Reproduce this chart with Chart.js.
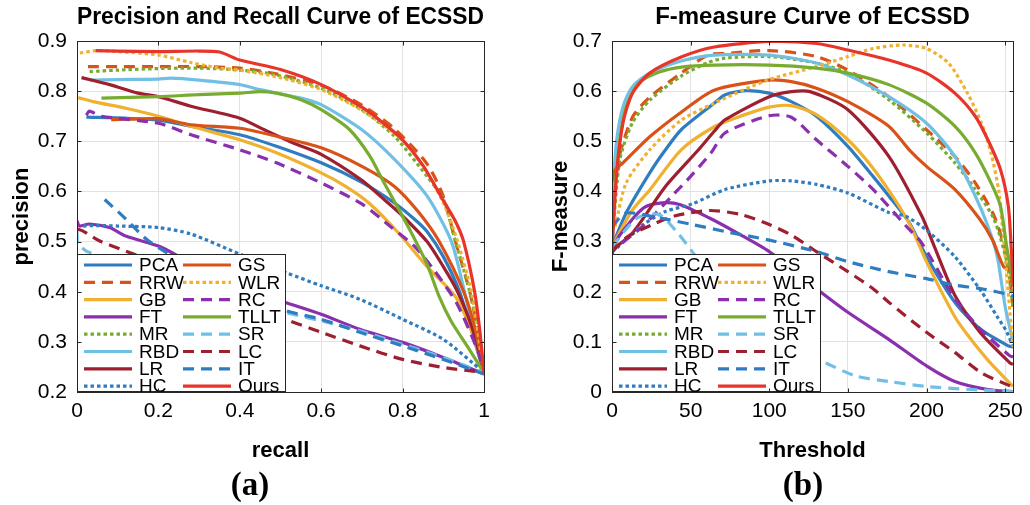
<!DOCTYPE html>
<html lang="en">
<head>
  <meta charset="UTF-8" />
  <title>ECSSD: PR and F-measure</title>
  <script src="https://cdn.jsdelivr.net/npm/chart.js"></script>
  <style>
    body { margin: 0; background: #fff; }
    #wrap { position: relative; width: 1030px; height: 505px; overflow: hidden; }
    canvas { position: absolute; top: 0; }
    .cap { position: absolute; top: 466px; font: bold 33px "Liberation Serif", "Times New Roman", serif; color: #000; transform: translateX(-50%); }
  </style>
</head>
<body>
  <div id="wrap">
    <canvas id="prChart" width="515" height="505" style="left:0"></canvas>
    <canvas id="fmChart" width="515" height="505" style="left:515px"></canvas>
    <div class="cap" style="left:250px">(a)</div>
    <div class="cap" style="left:803px">(b)</div>
  </div>

  <script>
    const methods = ['PCA', 'RRW', 'GB', 'FT', 'MR', 'RBD', 'LR', 'HC', 'GS', 'WLR', 'RC', 'TLLT', 'SR', 'LC', 'IT', 'Ours'];
    const colors = ['#2f7dc0', '#d95319', '#efb12f', '#8a2fad', '#77ac30', '#70c0e6', '#9e1f30', '#2f7dc0',
                    '#d95319', '#efb12f', '#8a2fad', '#77ac30', '#70c0e6', '#9e1f30', '#2f7dc0', '#e8342a'];
    const styles = ['solid', 'dash', 'solid', 'solid', 'dot', 'solid', 'solid', 'dot',
                    'solid', 'dot', 'dash', 'solid', 'dash', 'dash', 'dash', 'solid'];

    const PR_X_TICKS = [0, 0.2, 0.4, 0.6, 0.8, 1];
    const PR_Y_TICKS = [0.2, 0.3, 0.4, 0.5, 0.6, 0.7, 0.8, 0.9];
    const FM_X_TICKS = [0, 50, 100, 150, 200, 250];
    const FM_Y_TICKS = [0, 0.1, 0.2, 0.3, 0.4, 0.5, 0.6, 0.7];

    // precision / recall curves: [recall, precision]
    const PR_PCA = [[0.023,0.748],[0.12,0.746],[0.2,0.742],[0.28,0.73],[0.4,0.713],[0.49,0.69],[0.6,0.657],[0.7,0.618],[0.78,0.577],[0.83,0.544],[0.86,0.52],[0.9,0.47],[0.94,0.4],[0.97,0.32],[1.0,0.238]];
    const PR_RRW = [[0.027,0.849],[0.1,0.849],[0.2,0.849],[0.3,0.849],[0.4,0.846],[0.48,0.836],[0.6,0.812],[0.7,0.772],[0.78,0.725],[0.86,0.655],[0.9,0.59],[0.93,0.5],[0.965,0.4],[0.985,0.32],[1.0,0.238]];
    const PR_GB = [[0.003,0.787],[0.04,0.779],[0.12,0.766],[0.2,0.75],[0.28,0.73],[0.4,0.703],[0.49,0.677],[0.6,0.637],[0.66,0.61],[0.72,0.575],[0.79,0.517],[0.86,0.45],[0.93,0.39],[0.97,0.32],[1.0,0.238]];
    const PR_FT = [[0,0.541],[0.006,0.531],[0.03,0.535],[0.08,0.528],[0.12,0.511],[0.2,0.491],[0.24,0.475],[0.35,0.43],[0.45,0.395],[0.514,0.378],[0.6,0.355],[0.695,0.325],[0.8,0.299],[0.9,0.269],[1.0,0.236]];
    const PR_MR = [[0.031,0.839],[0.1,0.842],[0.2,0.845],[0.3,0.846],[0.4,0.842],[0.48,0.834],[0.6,0.806],[0.7,0.763],[0.78,0.71],[0.86,0.63],[0.9,0.584],[0.93,0.5],[0.965,0.4],[0.985,0.32],[1.0,0.238]];
    const PR_RBD = [[0.031,0.822],[0.1,0.823],[0.2,0.824],[0.23,0.826],[0.3,0.822],[0.4,0.813],[0.45,0.803],[0.55,0.786],[0.6,0.773],[0.7,0.723],[0.78,0.664],[0.86,0.591],[0.92,0.5],[0.952,0.4],[0.98,0.3],[1.0,0.238]];
    const PR_LR = [[0.011,0.827],[0.08,0.813],[0.15,0.796],[0.2,0.789],[0.28,0.77],[0.4,0.746],[0.46,0.723],[0.53,0.697],[0.6,0.674],[0.7,0.622],[0.76,0.58],[0.8,0.551],[0.86,0.5],[0.9,0.45],[0.935,0.4],[0.97,0.33],[1.0,0.238]];
    const PR_HC = [[0.015,0.531],[0.05,0.532],[0.1,0.531],[0.2,0.528],[0.28,0.515],[0.4,0.475],[0.514,0.438],[0.6,0.412],[0.695,0.385],[0.8,0.345],[0.9,0.305],[1.0,0.239]];
    const PR_GS = [[0.084,0.743],[0.2,0.745],[0.28,0.733],[0.4,0.726],[0.49,0.71],[0.6,0.687],[0.7,0.65],[0.78,0.61],[0.84,0.558],[0.89,0.5],[0.95,0.4],[0.98,0.32],[1.0,0.238]];
    const PR_WLR = [[0.007,0.876],[0.05,0.881],[0.1,0.879],[0.2,0.872],[0.28,0.857],[0.35,0.846],[0.4,0.842],[0.5,0.827],[0.6,0.803],[0.7,0.762],[0.8,0.702],[0.85,0.65],[0.9,0.578],[0.935,0.5],[0.969,0.4],[0.985,0.32],[1.0,0.238]];
    const PR_RC = [[0.023,0.752],[0.03,0.76],[0.06,0.75],[0.2,0.736],[0.28,0.713],[0.4,0.683],[0.49,0.657],[0.6,0.617],[0.7,0.575],[0.77,0.53],[0.83,0.49],[0.88,0.44],[0.933,0.377],[0.984,0.284],[1.0,0.24]];
    const PR_TLLT = [[0.06,0.786],[0.2,0.789],[0.3,0.793],[0.4,0.796],[0.45,0.799],[0.49,0.796],[0.55,0.783],[0.6,0.763],[0.67,0.723],[0.72,0.67],[0.75,0.624],[0.78,0.58],[0.82,0.52],[0.86,0.455],[0.89,0.39],[0.92,0.34],[0.96,0.29],[1.0,0.238]];
    const PR_SR = [[0,0.52],[0.001,0.5],[0.023,0.481],[0.1,0.46],[0.2,0.43],[0.35,0.39],[0.514,0.358],[0.6,0.342],[0.695,0.322],[0.8,0.295],[0.9,0.269],[1.0,0.238]];
    const PR_LC = [[0,0.525],[0.015,0.521],[0.056,0.501],[0.12,0.481],[0.25,0.44],[0.4,0.39],[0.514,0.345],[0.6,0.319],[0.695,0.292],[0.8,0.265],[0.9,0.249],[1.0,0.239]];
    const PR_IT = [[0.068,0.584],[0.12,0.545],[0.17,0.505],[0.22,0.478],[0.3,0.44],[0.4,0.4],[0.514,0.362],[0.6,0.345],[0.695,0.319],[0.8,0.292],[0.9,0.265],[1.0,0.236]];
    const PR_OURS = [[0.046,0.881],[0.1,0.88],[0.2,0.879],[0.3,0.88],[0.35,0.878],[0.4,0.862],[0.5,0.843],[0.6,0.813],[0.7,0.768],[0.75,0.738],[0.8,0.703],[0.85,0.652],[0.9,0.582],[0.93,0.54],[0.95,0.5],[0.977,0.4],[0.99,0.32],[1.0,0.238]];

    // F-measure curves: [threshold, F]
    const FM_PCA = [[0,0.29],[9,0.357],[24,0.437],[34,0.483],[44,0.523],[65,0.576],[72,0.593],[85,0.601],[100,0.596],[114,0.579],[130,0.55],[150,0.49],[166,0.43],[176,0.391],[189,0.338],[200,0.27],[218,0.179],[234,0.126],[252,0.092],[255,0.09]];
    const FM_RRW = [[0,0.33],[3,0.449],[13,0.548],[24,0.588],[44,0.636],[61,0.672],[72,0.675],[100,0.681],[130,0.669],[150,0.642],[176,0.589],[200,0.523],[218,0.47],[231,0.417],[243,0.351],[251,0.27],[255,0.17]];
    const FM_GB = [[0,0.29],[13,0.363],[24,0.403],[44,0.483],[65,0.529],[80,0.548],[100,0.568],[114,0.571],[130,0.553],[150,0.503],[165,0.45],[180,0.383],[190,0.33],[200,0.26],[218,0.15],[227,0.11],[240,0.06],[255,0.011]];
    const FM_FT = [[0,0.283],[5,0.313],[20,0.367],[32,0.377],[43,0.374],[62,0.347],[82,0.313],[100,0.28],[114,0.246],[130,0.206],[150,0.159],[176,0.105],[200,0.052],[218,0.021],[239,0.005],[255,0.001]];
    const FM_MR = [[0,0.3],[5,0.463],[13,0.537],[24,0.582],[44,0.63],[61,0.657],[72,0.666],[100,0.669],[130,0.656],[150,0.636],[176,0.583],[200,0.517],[218,0.457],[231,0.404],[243,0.344],[251,0.26],[255,0.17]];
    const FM_RBD = [[0,0.36],[1,0.423],[3,0.503],[7,0.569],[13,0.609],[24,0.636],[44,0.66],[65,0.672],[100,0.672],[130,0.656],[150,0.632],[176,0.589],[200,0.536],[218,0.47],[231,0.391],[239,0.331],[245,0.27],[250,0.17],[255,0.1]];
    const FM_LR = [[0,0.283],[13,0.317],[34,0.41],[55,0.483],[65,0.52],[72,0.543],[100,0.589],[114,0.599],[126,0.599],[150,0.563],[176,0.47],[197,0.351],[205,0.29],[218,0.193],[234,0.119],[253,0.058],[255,0.055]];
    const FM_HC = [[0,0.28],[3,0.287],[20,0.334],[34,0.36],[51,0.375],[72,0.404],[100,0.421],[114,0.421],[130,0.414],[150,0.397],[176,0.358],[187,0.35],[200,0.323],[218,0.27],[235,0.2],[245,0.15],[251,0.12],[255,0.09]];
    const FM_GS = [[0,0.42],[2,0.443],[7,0.457],[24,0.509],[44,0.558],[65,0.602],[100,0.622],[114,0.619],[130,0.606],[150,0.579],[176,0.53],[189,0.483],[200,0.45],[218,0.404],[234,0.344],[242,0.303],[249,0.25],[253,0.243],[255,0.21]];
    const FM_WLR = [[2,0.33],[9,0.417],[24,0.483],[44,0.542],[65,0.576],[99,0.622],[130,0.649],[150,0.669],[166,0.685],[185,0.692],[200,0.685],[214,0.656],[226,0.596],[235,0.536],[241,0.477],[246,0.4],[249,0.303],[251,0.237],[253,0.16],[255,0.09]];
    const FM_RC = [[0,0.27],[1,0.283],[19,0.329],[40,0.397],[48,0.423],[63,0.477],[72,0.517],[100,0.551],[114,0.548],[130,0.503],[150,0.45],[166,0.404],[187,0.331],[197,0.297],[218,0.186],[234,0.126],[253,0.072],[255,0.07]];
    const FM_TLLT = [[0,0.3],[1,0.369],[5,0.503],[9,0.569],[17,0.616],[30,0.638],[44,0.648],[65,0.652],[100,0.652],[130,0.646],[150,0.636],[176,0.613],[200,0.576],[218,0.53],[231,0.477],[241,0.417],[247,0.371],[251,0.289],[255,0.22]];
    const FM_SR = [[0,0.29],[16,0.347],[30,0.354],[41,0.32],[51,0.28],[70,0.2],[90,0.14],[110,0.095],[131,0.065],[155,0.032],[176,0.021],[200,0.011],[228,0.005],[255,0.001]];
    const FM_LC = [[0,0.28],[10,0.31],[28,0.337],[41,0.352],[62,0.362],[82,0.354],[100,0.334],[114,0.313],[130,0.28],[150,0.24],[166,0.206],[176,0.179],[200,0.119],[218,0.079],[235,0.038],[254,0.011],[255,0.01]];
    const FM_IT = [[0,0.33],[9,0.357],[30,0.347],[51,0.334],[72,0.32],[100,0.303],[130,0.28],[150,0.26],[176,0.24],[200,0.226],[218,0.213],[235,0.206],[254,0.193],[255,0.19]];
    const FM_OURS = [[0,0.283],[3,0.437],[7,0.537],[13,0.596],[24,0.636],[44,0.668],[65,0.688],[100,0.699],[130,0.695],[150,0.682],[176,0.662],[200,0.636],[218,0.596],[231,0.55],[239,0.503],[247,0.444],[252,0.371],[254,0.28],[255,0.22]];

    const prSeries = [PR_PCA, PR_RRW, PR_GB, PR_FT, PR_MR, PR_RBD, PR_LR, PR_HC, PR_GS, PR_WLR, PR_RC, PR_TLLT, PR_SR, PR_LC, PR_IT, PR_OURS];
    const fmSeries = [FM_PCA, FM_RRW, FM_GB, FM_FT, FM_MR, FM_RBD, FM_LR, FM_HC, FM_GS, FM_WLR, FM_RC, FM_TLLT, FM_SR, FM_LC, FM_IT, FM_OURS];

    const SANS = '"Liberation Sans", Arial, Helvetica, sans-serif';
    const dashFor = s => s === 'dash' ? [11, 7] : s === 'dot' ? [3.5, 3] : [];

    function makeSets(series) {
      return series.map((pts, i) => ({
        label: methods[i],
        data: pts.map(p => ({ x: p[0], y: p[1] })),
        showLine: true,
        borderColor: colors[i],
        backgroundColor: colors[i],
        borderWidth: 3.2,
        borderDash: dashFor(styles[i]),
        pointRadius: 0,
        tension: 0.25,
        order: series.length - 1 - i
      }));
    }

    // legend box in the lower left corner, two columns, plus the matlab style frame
    const boxLegend = {
      id: 'boxLegend',
      afterDatasetsDraw(chart) {
        const { ctx, chartArea: a } = chart;
        const w = 209, h = 138;
        const x0 = Math.round(a.left), y0 = Math.round(a.bottom) - h;
        ctx.save();
        ctx.fillStyle = '#fff';
        ctx.fillRect(x0, y0, w, h);
        ctx.strokeStyle = '#262626';
        ctx.lineWidth = 1;
        ctx.strokeRect(x0 + 0.5, y0 + 0.5, w - 1, h - 1);
        ctx.font = '19px ' + SANS;
        ctx.textBaseline = 'middle';
        chart.data.datasets.forEach((ds, i) => {
          const col = Math.floor(i / 8), row = i % 8;
          const lx = x0 + 7 + col * 99, ly = y0 + 11 + row * 17.3;
          ctx.strokeStyle = ds.borderColor;
          ctx.lineWidth = ds.borderWidth;
          ctx.setLineDash(ds.borderDash);
          ctx.beginPath();
          ctx.moveTo(lx, ly);
          ctx.lineTo(lx + 48, ly);
          ctx.stroke();
          ctx.setLineDash([]);
          ctx.fillStyle = '#000';
          ctx.fillText(ds.label, lx + 55, ly + 1);
        });

        // frame with inward ticks
        const L = Math.round(a.left) + 0.5, R = Math.round(a.right) + 0.5;
        const T = Math.round(a.top) + 0.5, B = Math.round(a.bottom) + 0.5;
        ctx.strokeStyle = '#262626';
        ctx.lineWidth = 1;
        ctx.strokeRect(L, T, R - L, B - T);
        ctx.beginPath();
        chart.scales.x.ticks.forEach(t => {
          const px = Math.round(chart.scales.x.getPixelForValue(t.value)) + 0.5;
          ctx.moveTo(px, B); ctx.lineTo(px, B - 4);
          ctx.moveTo(px, T); ctx.lineTo(px, T + 4);
        });
        chart.scales.y.ticks.forEach(t => {
          const py = Math.round(chart.scales.y.getPixelForValue(t.value)) + 0.5;
          ctx.moveTo(L, py); ctx.lineTo(L + 4, py);
          ctx.moveTo(R, py); ctx.lineTo(R - 4, py);
        });
        ctx.stroke();
        ctx.restore();
      }
    };

    function makeChart(id, cfg) {
      const tickFont = { family: SANS, size: 21 };
      const titleFont = { family: SANS, size: 22, weight: 'bold' };
      const grid = { color: '#e2e2e2', drawTicks: false };
      return new Chart(document.getElementById(id), {
        type: 'scatter',
        data: { datasets: makeSets(cfg.series) },
        options: {
          responsive: false,
          animation: false,
          layout: { padding: { left: 0, right: cfg.padRight, top: 0, bottom: 37 } },
          plugins: {
            legend: { display: false },
            tooltip: { enabled: false },
            title: {
              display: true,
              text: cfg.title,
              fullSize: false,
              color: '#000',
              font: { family: SANS, size: 24, weight: 'bold' },
              padding: { top: 3, bottom: 9.2 }
            }
          },
          scales: {
            x: {
              type: 'linear',
              min: cfg.xMin, max: cfg.xMax,
              afterBuildTicks: s => { s.ticks = cfg.xTicks.map(v => ({ value: v })); },
              afterFit: s => { s.height = 76; },
              border: { display: false },
              grid: grid,
              ticks: { font: tickFont, color: '#000', padding: 7, autoSkip: false, maxRotation: 0, callback: v => String(v) },
              title: { display: true, text: cfg.xLabel, color: '#000', font: titleFont, padding: { top: 0, bottom: 4 } }
            },
            y: {
              type: 'linear',
              min: cfg.yMin, max: cfg.yMax,
              afterBuildTicks: s => { s.ticks = cfg.yTicks.map(v => ({ value: v })); },
              afterFit: s => { s.width = cfg.yWidth; },
              border: { display: false },
              grid: grid,
              ticks: { font: tickFont, color: '#000', padding: 10, autoSkip: false, callback: v => String(v) },
              title: { display: true, text: cfg.yLabel, color: '#000', font: titleFont, padding: { top: cfg.yTitlePad, bottom: 0 } }
            }
          }
        },
        plugins: [boxLegend]
      });
    }

    makeChart('prChart', {
      series: prSeries, title: 'Precision and Recall Curve of ECSSD',
      xMin: 0, xMax: 1, yMin: 0.2, yMax: 0.9, xTicks: PR_X_TICKS, yTicks: PR_Y_TICKS,
      xLabel: 'recall', yLabel: 'precision', yWidth: 77, yTitlePad: 9, padRight: 31
    });
    makeChart('fmChart', {
      series: fmSeries, title: 'F-measure Curve of ECSSD',
      xMin: 0, xMax: 255, yMin: 0, yMax: 0.7, xTicks: FM_X_TICKS, yTicks: FM_Y_TICKS,
      xLabel: 'Threshold', yLabel: 'F-measure', yWidth: 97, yTitlePad: 33, padRight: 13
    });
  </script>
</body>
</html>
